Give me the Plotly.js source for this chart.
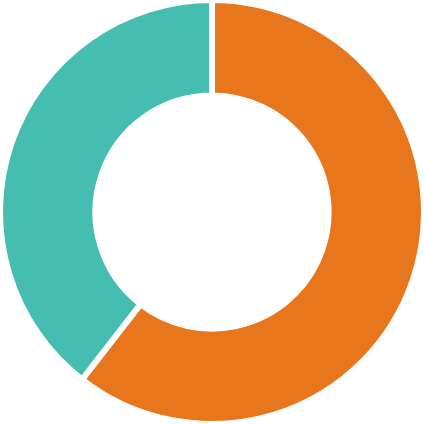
<!DOCTYPE html>
<html>
<head>
<meta charset="utf-8">
<script src="https://cdn.plot.ly/plotly-3.0.1.min.js"></script>
<style>html,body{margin:0;padding:0;background:#fff;}#chart{width:424px;height:424px;}</style>
</head>
<body>
<div id="chart"></div>
<script>
const labels = ["A", "B"];
const values = [60.5, 39.5];
const colors = ["#E8761C", "#45BDB1"];

Plotly.newPlot("chart", [{
  type: "pie",
  labels: labels,
  values: values,
  hole: 0.55,
  sort: false,
  direction: "clockwise",
  rotation: 0,
  textinfo: "none",
  hoverinfo: "none",
  marker: {colors: colors, line: {color: "#ffffff", width: 6}}
}], {
  width: 424, height: 424,
  margin: {l: 0, r: 0, t: 0, b: 0, pad: 0},
  showlegend: false,
  paper_bgcolor: "#ffffff"
}, {displayModeBar: false, staticPlot: true});
</script>
</body>
</html>
